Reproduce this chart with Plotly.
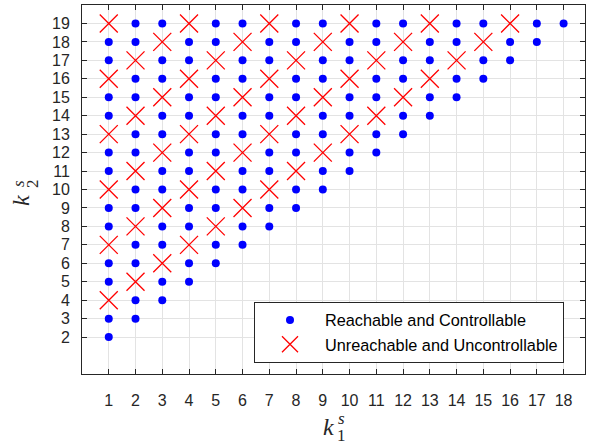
import plotly.graph_objects as go

# ---- data ----
k1_values = list(range(1, 19))
reachable_k2 = [
    [2, 3, 5, 6, 8, 9, 11, 12, 14, 15, 17, 18],
    [3, 4, 6, 7, 9, 10, 12, 13, 15, 16, 18, 19],
    [4, 5, 7, 8, 10, 11, 13, 14, 16, 17, 19],
    [5, 6, 8, 9, 11, 12, 14, 15, 17, 18],
    [6, 7, 9, 10, 12, 13, 15, 16, 18, 19],
    [7, 8, 10, 11, 13, 14, 16, 17, 19],
    [8, 9, 11, 12, 14, 15, 17, 18],
    [9, 10, 12, 13, 15, 16, 18, 19],
    [10, 11, 13, 14, 16, 17, 19],
    [11, 12, 14, 15, 17, 18],
    [12, 13, 15, 16, 18, 19],
    [13, 14, 16, 17, 19],
    [14, 15, 17, 18],
    [15, 16, 18, 19],
    [16, 17, 19],
    [17, 18],
    [18, 19],
    [19],
]
unreachable_k2 = [
    [4, 7, 10, 13, 16, 19],
    [5, 8, 11, 14, 17],
    [6, 9, 12, 15, 18],
    [7, 10, 13, 16, 19],
    [8, 11, 14, 17],
    [9, 12, 15, 18],
    [10, 13, 16, 19],
    [11, 14, 17],
    [12, 15, 18],
    [13, 16, 19],
    [14, 17],
    [15, 18],
    [16, 19],
    [17],
    [18],
    [19],
    [],
    [],
]
x_ticks = list(range(1, 19))
y_ticks = list(range(2, 20))
legend_names = ["Reachable and Controllable", "Unreachable and Uncontrollable"]

rx, ry = [], []
for k1, ys in zip(k1_values, reachable_k2):
    for y in ys:
        rx.append(k1)
        ry.append(y)
ux, uy = [], []
for k1, ys in zip(k1_values, unreachable_k2):
    for y in ys:
        ux.append(k1)
        uy.append(y)

# ---- figure ----
W, H = 591, 445
L, R, T, B = 82, 585, 5, 374

fig = go.Figure()
fig.add_trace(go.Scatter(
    x=rx, y=ry, mode="markers", name=legend_names[0], legendgroup="a",
    marker=dict(symbol="circle", size=8, color="#0000ff", line=dict(width=0)),
))
fig.add_trace(go.Scatter(
    x=ux, y=uy, mode="markers", name=legend_names[1], legendgroup="b",
    marker=dict(symbol="x-thin-open", size=18, color="#ff0000",
                line=dict(width=1.3, color="#ff0000")),
))

axis_common = dict(
    showgrid=True, gridcolor="#e3e3e3", gridwidth=1,
    showline=True, linecolor="#262626", linewidth=1, mirror="ticks",
    ticks="inside", ticklen=5, tickcolor="#262626", tickwidth=1,
    zeroline=False,
    tickfont=dict(family="Liberation Sans, Arial", size=16, color="#262626"),
)
fig.update_xaxes(range=[0, 18.8], tickvals=x_ticks, ticktext=[str(v) for v in x_ticks],
                 ticklabelstandoff=12, **axis_common)
fig.update_yaxes(range=[0, 20], tickvals=y_ticks, ticktext=[str(v) for v in y_ticks],
                 ticklabelstandoff=8, **axis_common)


def px(xp, yp):
    return (xp - L) / (R - L), (B - yp) / (B - T)


serif = "Liberation Serif, Times New Roman, serif"
anns = []
for text, (xp, yp), size, ang in [
    ("<i>k</i>", (328.5, 426.5), 24, 0),
    ("<i>s</i>", (341, 418), 17, 0),
    ("1", (341, 435.5), 17, 0),
    ("<i>k</i>", (21, 201), 24, -90),
    ("<i>s</i>", (18, 184), 17, -90),
    ("2", (32, 184), 17, -90),
]:
    xa, ya = px(xp, yp)
    anns.append(dict(text=text, x=xa, y=ya, xref="paper", yref="paper",
                     xanchor="center", yanchor="middle", showarrow=False,
                     textangle=ang, font=dict(family=serif, size=size, color="#262626")))

lx, ly = px(564, 363)
fig.update_layout(
    width=W, height=H,
    margin=dict(l=L, r=W - R, t=T, b=H - B, pad=0),
    paper_bgcolor="white", plot_bgcolor="white",
    annotations=anns,
    showlegend=True,
    hovermode=False,
    legend=dict(
        x=lx, y=ly, xanchor="right", yanchor="bottom",
        bgcolor="white", bordercolor="#262626", borderwidth=1,
        font=dict(family="Liberation Sans, Arial", size=16.3, color="#000000"),
        itemwidth=60, tracegroupgap=0, traceorder="normal",
    ),
)

fig.write_html(
    "out.html",
    config={"displayModeBar": False},
    post_script="document.body.style.margin='0';document.body.style.overflow='hidden';",
)
